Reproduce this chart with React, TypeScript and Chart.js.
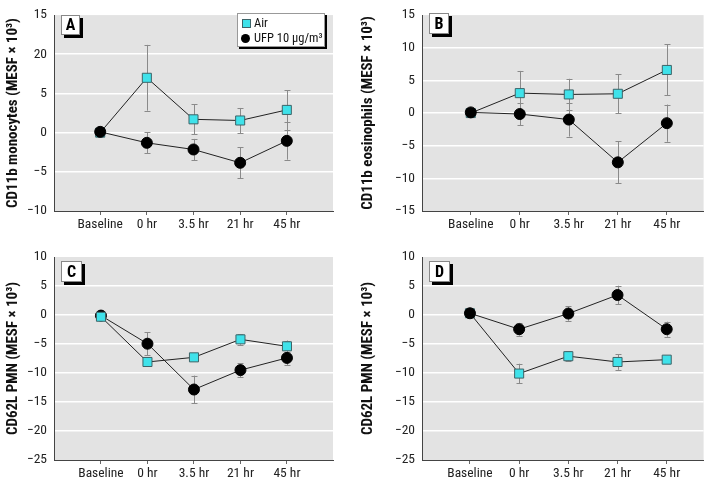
import React, { useEffect, useRef } from "react";
import { Chart, registerables } from "chart.js";

Chart.register(...registerables);

// ---------- shared categories ----------
const xLabels = ["Baseline", "0 hr", "3.5 hr", "21 hr", "45 hr"];
const xPositions = [0, 1, 2, 3, 4];

// ---------- Panel A: CD11b monocytes ----------
const airA = [0, 7.0, 1.7, 1.55, 2.9];
const airErrA = [0, 4.2, 1.9, 1.6, 2.5];
const ufpA = [0.1, -1.3, -2.15, -3.85, -1.05];
const ufpErrA = [0, 1.35, 1.35, 2.0, 2.4];
const yTicksA = [-10, -5, 0, 5, 10, 15];
const yTickLabelsA = ["\u221210", "\u22125", "0", "5", "20", "15"];

// ---------- Panel B: CD11b eosinophils ----------
const airB = [0, 3.05, 2.85, 2.95, 6.6];
const airErrB = [0, 3.4, 2.4, 3.0, 3.9];
const ufpB = [0.1, -0.15, -1.0, -7.55, -1.55];
const ufpErrB = [0, 1.75, 2.6, 3.2, 2.85];
const yTicksB = [-15, -10, -5, 0, 5, 10, 15];
const yTickLabelsB = ["\u221215", "\u221210", "\u22125", "0", "5", "10", "15"];

// ---------- Panel C: CD62L PMN ----------
const airC = [-0.3, -8.1, -7.3, -4.2, -5.4];
const airErrC = [0.6, 0.5, 0.5, 0.9, 1.0];
const ufpC = [-0.1, -4.95, -12.85, -9.5, -7.4];
const ufpErrC = [0, 1.95, 2.4, 1.2, 1.3];
const yTicksC = [-25, -20, -15, -10, -5, 0, 5, 10];
const yTickLabelsC = ["\u221225", "\u221220", "\u221215", "\u221210", "\u22125", "0", "5", "10"];

// ---------- Panel D: CD62L PMN ----------
const airD = [0.3, -10.1, -7.1, -8.1, -7.7];
const airErrD = [0, 1.7, 0.85, 1.35, 0.3];
const ufpD = [0.3, -2.45, 0.25, 3.45, -2.45];
const ufpErrD = [0, 1.1, 1.25, 1.6, 1.3];
const yTicksD = [-25, -20, -15, -10, -5, 0, 5, 10];
const yTickLabelsD = ["\u221225", "\u221220", "\u221215", "\u221210", "\u22125", "0", "5", "10"];

const legendLabels = ["Air", "UFP 10 \u03bcg/m\u00b3"];

const FONT = '"Roboto Condensed", "Open Sans Condensed", sans-serif';
const AIR_FILL = "#3fe2ea";
const AIR_EDGE = "#3d6468";
const BG = "#e3e3e3";
const AXIS = "#444";

type PanelProps = {
  left: number;
  top: number;
  width: number;
  height: number;
  area: { l: number; r: number; t: number; b: number };
  xMin: number;
  xMax: number;
  yTicks: number[];
  yTickLabels: string[];
  title: string;
  air: number[];
  airErr: number[];
  ufp: number[];
  ufpErr: number[];
  ufpOnTop: boolean;
  letter: string;
  letterBox: { x: number; y: number; w: number; h: number };
  legend?: boolean;
};

const bgPlugin = {
  id: "bgFill",
  beforeDraw(chart: any) {
    const { ctx, chartArea } = chart;
    ctx.save();
    ctx.fillStyle = BG;
    ctx.fillRect(chartArea.left, chartArea.top, chartArea.right - chartArea.left, chartArea.bottom - chartArea.top);
    ctx.restore();
  },
};

const errPlugin = {
  id: "errBars",
  beforeDatasetsDraw(chart: any) {
    const { ctx } = chart;
    const xs = chart.scales.x;
    const ys = chart.scales.y;
    ctx.save();
    ctx.strokeStyle = "#8a8a8a";
    ctx.lineWidth = 1;
    chart.data.datasets.forEach((ds: any) => {
      const errs: number[] = ds.errs || [];
      ds.data.forEach((p: any, i: number) => {
        const e = errs[i];
        if (!e) return;
        const x = Math.round(xs.getPixelForValue(p.x)) + 0.5;
        const yt = ys.getPixelForValue(p.y + e);
        const yb = ys.getPixelForValue(p.y - e);
        ctx.beginPath();
        ctx.moveTo(x, yt);
        ctx.lineTo(x, yb);
        ctx.moveTo(x - 3, Math.round(yt) + 0.5);
        ctx.lineTo(x + 3, Math.round(yt) + 0.5);
        ctx.moveTo(x - 3, Math.round(yb) + 0.5);
        ctx.lineTo(x + 3, Math.round(yb) + 0.5);
        ctx.stroke();
      });
    });
    ctx.restore();
  },
};

function Panel(props: PanelProps) {
  const ref = useRef<HTMLCanvasElement | null>(null);
  useEffect(() => {
    if (!ref.current) return;
    const { width, height, area, xMin, xMax, yTicks, yTickLabels } = props;
    const yMin = yTicks[0];
    const yMax = yTicks[yTicks.length - 1];
    const ufpDs = {
      label: legendLabels[1],
      data: props.ufp.map((y, i) => ({ x: xPositions[i], y })),
      errs: props.ufpErr,
      borderColor: "#222",
      borderWidth: 1,
      pointStyle: "circle",
      pointRadius: 5.5,
      pointBackgroundColor: "#000",
      pointBorderColor: "#000",
      pointBorderWidth: 1,
      order: props.ufpOnTop ? 0 : 1,
    };
    const airDs = {
      label: legendLabels[0],
      data: props.air.map((y, i) => ({ x: xPositions[i], y })),
      errs: props.airErr,
      borderColor: "#222",
      borderWidth: 1,
      pointStyle: "rect",
      pointRadius: 6.4,
      pointBackgroundColor: AIR_FILL,
      pointBorderColor: AIR_EDGE,
      pointBorderWidth: 1,
      order: props.ufpOnTop ? 1 : 0,
    };
    const chart = new Chart(ref.current, {
      type: "line",
      data: { datasets: [ufpDs, airDs] as any },
      options: {
        animation: false,
        responsive: false,
        maintainAspectRatio: false,
        layout: { padding: { top: area.t, right: width - area.r, left: 0, bottom: 0 } },
        plugins: { legend: { display: false }, tooltip: { enabled: false } },
        scales: {
          x: {
            type: "linear",
            min: xMin,
            max: xMax,
            afterBuildTicks: (s: any) => {
              s.ticks = xPositions.map((v) => ({ value: v }));
            },
            afterFit: (s: any) => {
              s.height = height - area.b;
            },
            ticks: {
              callback: (v: any) => xLabels[Math.round(v)] ?? "",
              autoSkip: false,
              maxRotation: 0,
              padding: 2,
              color: "#222",
              font: { family: FONT, size: 13.5 },
            },
            grid: { drawOnChartArea: false, drawTicks: true, tickLength: 4, color: "#666" },
            border: { display: true, color: AXIS, width: 1 },
          },
          y: {
            min: yMin,
            max: yMax,
            afterBuildTicks: (s: any) => {
              s.ticks = yTicks.map((v) => ({ value: v }));
            },
            afterFit: (s: any) => {
              s.width = area.l;
            },
            ticks: {
              callback: (v: any) => yTickLabels[yTicks.indexOf(v)] ?? "",
              padding: 7,
              color: "#222",
              font: { family: FONT, size: 13.5 },
            },
            grid: {
              drawTicks: false,
              lineWidth: 1.6,
              color: (c: any) =>
                c.tick && (c.tick.value === yMin || c.tick.value === yMax) ? "rgba(0,0,0,0)" : "#ffffff",
            },
            border: { display: true, color: AXIS, width: 1 },
            title: {
              display: true,
              text: props.title,
              color: "#111",
              font: { family: FONT, size: 15, weight: "bold" },
              padding: { top: 4, bottom: 0 },
            },
          },
        },
      } as any,
      plugins: [bgPlugin, errPlugin],
    });
    return () => chart.destroy();
  }, []);

  const lb = props.letterBox;
  return (
    <div style={{ position: "absolute", left: props.left, top: props.top, width: props.width, height: props.height }}>
      <canvas ref={ref} width={props.width} height={props.height} style={{ width: props.width, height: props.height, display: "block" }} />
      <div
        style={{
          position: "absolute",
          left: lb.x,
          top: lb.y,
          width: lb.w,
          height: lb.h,
          boxSizing: "border-box",
          background: "#fff",
          border: "1px solid #888",
          boxShadow: "3px 3px 0 #000",
          fontFamily: FONT,
          fontWeight: "bold",
          fontSize: 16,
          lineHeight: `${lb.h - 2}px`,
          textAlign: "center",
          color: "#000",
        }}
      >
        {props.letter}
      </div>
      {props.legend ? (
        <div
          style={{
            position: "absolute",
            left: 237,
            top: 13,
            width: 88,
            height: 34,
            boxSizing: "border-box",
            background: "#fff",
            border: "1px solid #999",
            boxShadow: "2px 2px 0 #000",
            fontFamily: FONT,
            fontSize: 12.5,
            color: "#111",
          }}
        >
          <div style={{ position: "absolute", left: 4, top: 5, width: 7, height: 7, background: AIR_FILL, border: `1px solid ${AIR_EDGE}` }} />
          <div style={{ position: "absolute", left: 16, top: 1, lineHeight: "15px", whiteSpace: "nowrap" }}>{legendLabels[0]}</div>
          <div style={{ position: "absolute", left: 3, top: 20, width: 9, height: 9, borderRadius: "50%", background: "#000" }} />
          <div style={{ position: "absolute", left: 16, top: 16, lineHeight: "15px", whiteSpace: "nowrap" }}>{legendLabels[1]}</div>
        </div>
      ) : null}
    </div>
  );
}

export default function App() {
  return (
    <div style={{ position: "absolute", left: 0, top: 0, width: 711, height: 481, background: "#fff" }}>
      <Panel
        left={0}
        top={0}
        width={355}
        height={240}
        area={{ l: 54, r: 333, t: 8, b: 211 }}
        xMin={-0.99}
        xMax={4.99}
        yTicks={yTicksA}
        yTickLabels={yTickLabelsA}
        title={"CD11b monocytes (MESF \u00d7 10\u00b3)"}
        air={airA}
        airErr={airErrA}
        ufp={ufpA}
        ufpErr={ufpErrA}
        ufpOnTop={true}
        letter="A"
        letterBox={{ x: 61, y: 15, w: 19, h: 20 }}
        legend={true}
      />
      <Panel
        left={355}
        top={0}
        width={356}
        height={240}
        area={{ l: 67, r: 350, t: 8, b: 211 }}
        xMin={-0.995}
        xMax={4.75}
        yTicks={yTicksB}
        yTickLabels={yTickLabelsB}
        title={"CD11b eosinophils (MESF \u00d7 10\u00b3)"}
        air={airB}
        airErr={airErrB}
        ufp={ufpB}
        ufpErr={ufpErrB}
        ufpOnTop={true}
        letter="B"
        letterBox={{ x: 74, y: 13, w: 20, h: 21 }}
      />
      <Panel
        left={0}
        top={240}
        width={355}
        height={241}
        area={{ l: 54, r: 333, t: 17, b: 220 }}
        xMin={-1.01}
        xMax={4.99}
        yTicks={yTicksC}
        yTickLabels={yTickLabelsC}
        title={"CD62L PMN (MESF \u00d7 10\u00b3)"}
        air={airC}
        airErr={airErrC}
        ufp={ufpC}
        ufpErr={ufpErrC}
        ufpOnTop={false}
        letter="C"
        letterBox={{ x: 61, y: 21, w: 21, h: 21 }}
      />
      <Panel
        left={355}
        top={240}
        width={356}
        height={241}
        area={{ l: 67, r: 350, t: 17, b: 220 }}
        xMin={-0.975}
        xMax={4.75}
        yTicks={yTicksD}
        yTickLabels={yTickLabelsD}
        title={"CD62L PMN (MESF \u00d7 10\u00b3)"}
        air={airD}
        airErr={airErrD}
        ufp={ufpD}
        ufpErr={ufpErrD}
        ufpOnTop={true}
        letter="D"
        letterBox={{ x: 74, y: 21, w: 21, h: 21 }}
      />
    </div>
  );
}
